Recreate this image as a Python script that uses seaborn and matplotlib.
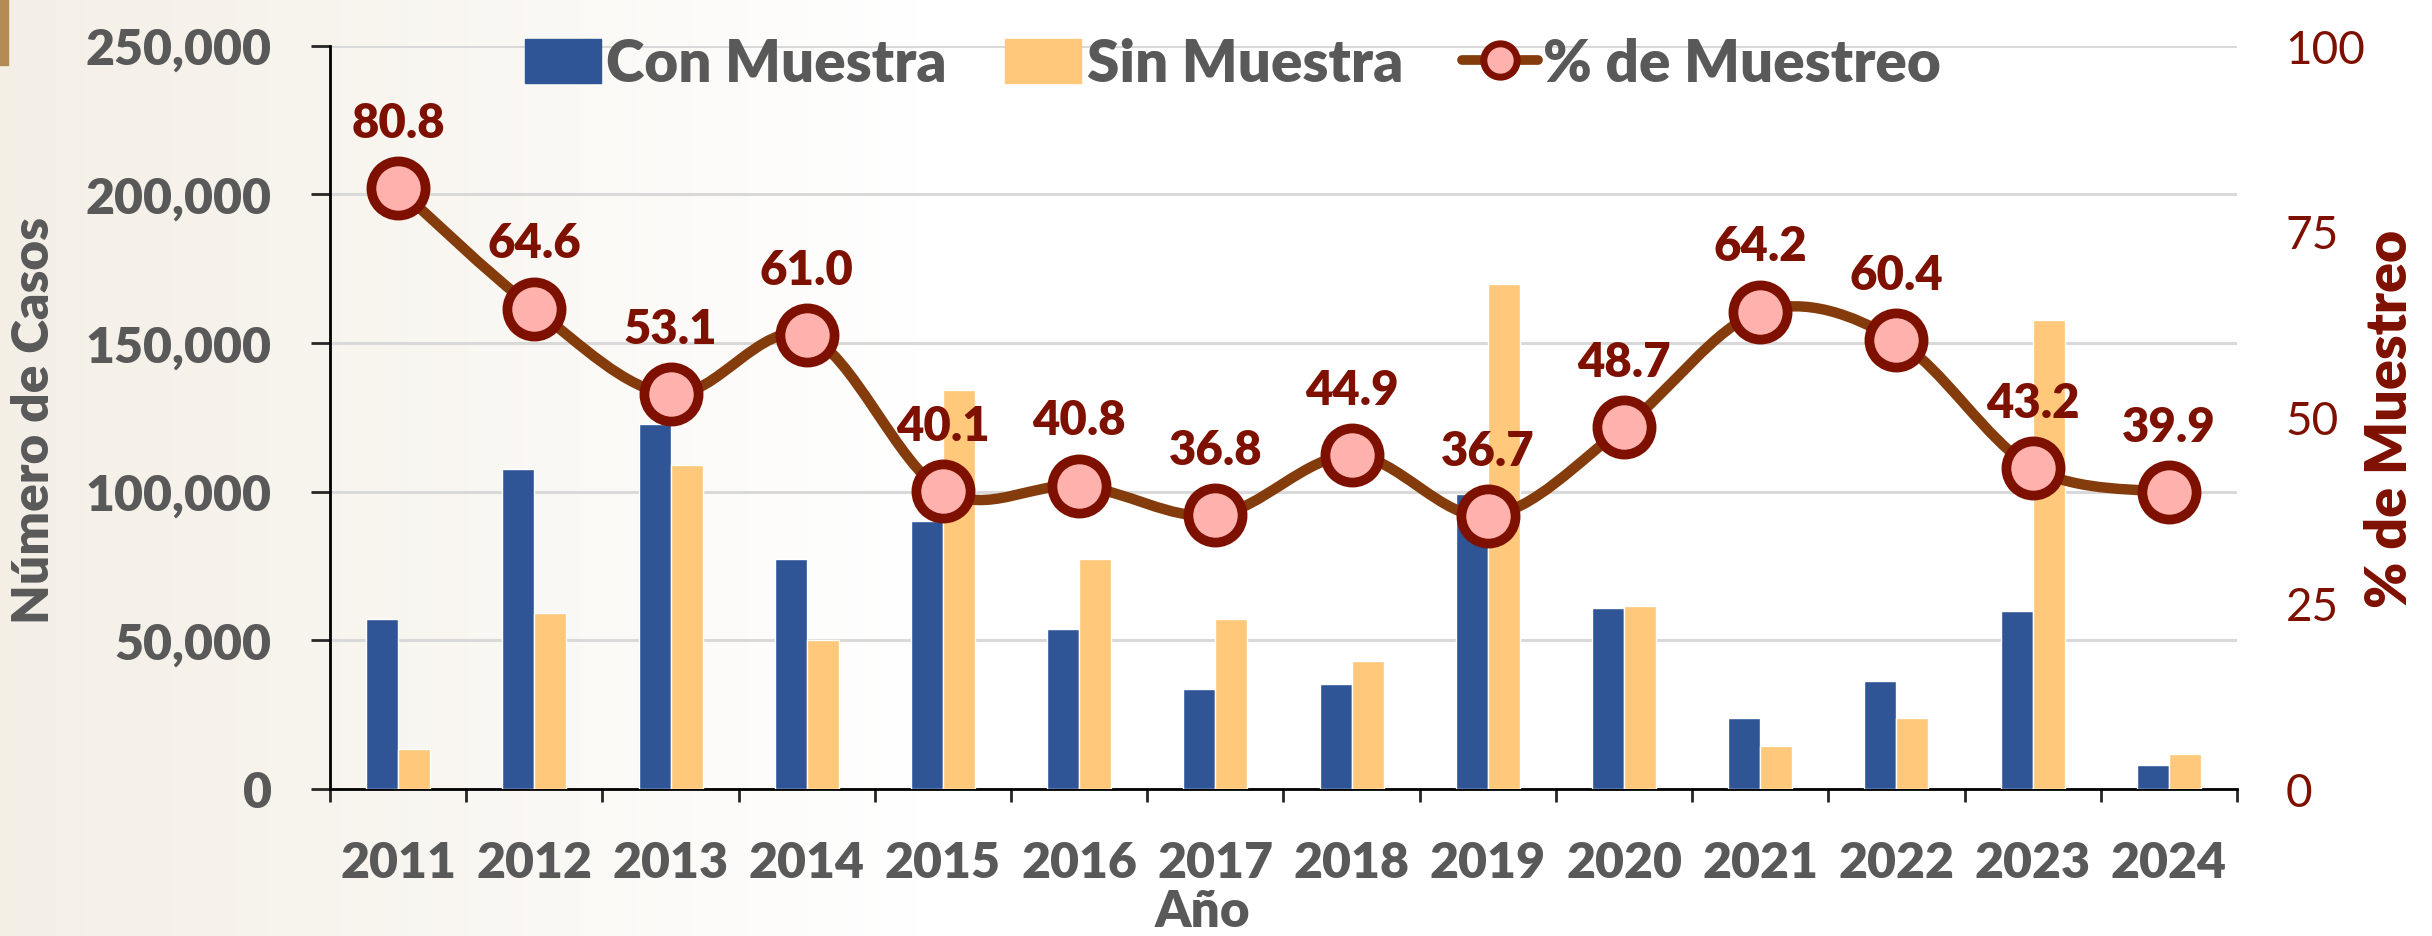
import numpy as np
import pandas as pd
import seaborn as sns
import matplotlib.pyplot as plt
from matplotlib.path import Path
from matplotlib.patches import PathPatch, Rectangle
from matplotlib.lines import Line2D

years = ['2011', '2012', '2013', '2014', '2015', '2016', '2017',
         '2018', '2019', '2020', '2021', '2022', '2023', '2024']
con_muestra = [57100, 107700, 122800, 77200, 90200, 53700, 33600,
               35400, 99300, 60700, 23900, 36200, 59900, 8200]
sin_muestra = [13500, 59100, 108900, 50000, 134000, 77200, 57100,
               43200, 169800, 61500, 14500, 23900, 157600, 11900]
pct_muestreo = [80.8, 64.6, 53.1, 61.0, 40.1, 40.8, 36.8,
                44.9, 36.7, 48.7, 64.2, 60.4, 43.2, 39.9]

blue = '#2F5597'
orange = '#FFC87A'
brown = '#843C0C'
dred = '#7E1000'
pink = '#FFB1AE'
grey = '#595959'
W = 'heavy'

df = pd.DataFrame({'Año': years * 2,
                   'Casos': con_muestra + sin_muestra,
                   'Serie': ['Con Muestra'] * len(years) + ['Sin Muestra'] * len(years)})

sns.set_style('white')
plt.rcParams['font.family'] = ['Lato', 'DejaVu Sans']

fig = plt.figure(figsize=(24.32, 9.37), dpi=100)

# soft beige backdrop on the left
bg = fig.add_axes([0, 0, 1, 1])
grad = np.zeros((2, 400, 4))
grad[..., :3] = np.array([242, 236, 225]) / 255
grad[..., 3] = np.clip(1 - np.linspace(0, 1, 400) / 0.38, 0, 1)[None, :] * 0.85
bg.imshow(grad, aspect='auto', extent=[0, 1, 0, 1])
bg.add_patch(Rectangle((0, 1 - 66 / 937), 8 / 2432, 66 / 937, color='#B48A55'))
bg.set_xlim(0, 1)
bg.set_ylim(0, 1)
bg.axis('off')

ax = fig.add_axes([330 / 2432, 1 - 790 / 937, (2237 - 330) / 2432, (790 - 46.5) / 937])
ax.patch.set_alpha(0)
sns.barplot(data=df, x='Año', y='Casos', hue='Serie', palette=[blue, orange],
            width=0.47, gap=0, ax=ax, legend=False, saturation=1, zorder=3)
ax.set_ylim(0, 250000)
ax.set_xlim(-0.5, len(years) - 0.5)
ax.set_yticks(range(0, 250001, 50000))
ax.set_yticklabels([f'{v:,}' for v in range(0, 250001, 50000)])
ax.yaxis.grid(True, color='#D9D9D9', lw=2.2, zorder=0)
ax.set_axisbelow(True)
ax.set_xlabel('')
ax.set_ylabel('')
for s in ['top', 'right']:
    ax.spines[s].set_visible(False)
for s in ['left', 'bottom']:
    ax.spines[s].set_color('black')
    ax.spines[s].set_linewidth(2)
ax.tick_params(axis='y', length=14, width=2, pad=28, labelsize=36, labelcolor=grey, left=True)
for t in ax.get_yticklabels():
    t.set_fontweight(W)
ax.set_xticks(np.arange(len(years)))
ax.set_xticklabels(years)
ax.set_xticks(np.arange(len(years) + 1) - 0.5, minor=True)
ax.tick_params(axis='x', which='major', length=0, pad=37, labelsize=36, labelcolor=grey)
ax.tick_params(axis='x', which='minor', length=9.5, width=2, bottom=True)
for t in ax.get_xticklabels():
    t.set_fontweight(W)

# percentage line on secondary axis
ax2 = ax.twinx()
ax2.set_ylim(0, 100)
ax2.set_yticks([0, 25, 50, 75, 100])
ax2.tick_params(axis='y', length=0, pad=35, labelsize=33, labelcolor=dred)
for s in ['top', 'right', 'left', 'bottom']:
    ax2.spines[s].set_visible(False)

xs = np.arange(len(years), dtype=float)
ys = np.array(pct_muestreo)
pts = np.column_stack([xs, ys])
ext = np.vstack([pts[0], pts, pts[-1]])
verts = [pts[0]]
codes = [Path.MOVETO]
for i in range(len(pts) - 1):
    p0, p1, p2, p3 = ext[i], ext[i + 1], ext[i + 2], ext[i + 3]
    verts += [p1 + (p2 - p0) / 6, p2 - (p3 - p1) / 6, p2]
    codes += [Path.CURVE4] * 3
ax2.add_patch(PathPatch(Path(verts, codes), facecolor='none', edgecolor=brown,
                        lw=7.5, capstyle='round', joinstyle='round', zorder=4))
ax2.plot(xs, ys, ls='none', marker='o', ms=39, mfc=pink, mec=dred, mew=7, zorder=5)
for x, y in zip(xs, ys):
    ax2.annotate(f'{y:.1f}', (x, y), xytext=(0, 47), textcoords='offset points',
                 ha='center', va='center', fontsize=34, fontweight=W, color=dred, zorder=6)

fig.text(34 / 2432, 1 - 420 / 937, 'Número de Casos', rotation=90, ha='center', va='center',
         fontsize=37, fontweight=W, color=grey)
fig.text(2390 / 2432, 1 - 419 / 937, '% de Muestreo', rotation=90, ha='center', va='center',
         fontsize=40, fontweight=W, color=dred)
fig.text(1202 / 2432, 1 - 912 / 937, 'Año', ha='center', va='center',
         fontsize=37, fontweight=W, color=grey)

handles = [Rectangle((0, 0), 1, 1, color=blue),
           Rectangle((0, 0), 1, 1, color=orange),
           Line2D([], [], color=brown, lw=7, marker='o', ms=24, mfc=pink, mec=dred, mew=5)]
leg = fig.legend(handles, ['Con Muestra', 'Sin Muestra', '% de Muestreo'], ncol=3,
                 loc='upper center', bbox_to_anchor=(0.507, 1.015), frameon=False,
                 prop={'size': 42, 'weight': W}, handlelength=1.3, handleheight=0.8,
                 handletextpad=0.1, columnspacing=1.0)
for t in leg.get_texts():
    t.set_color(grey)

fig.savefig('out.png', dpi=100)
